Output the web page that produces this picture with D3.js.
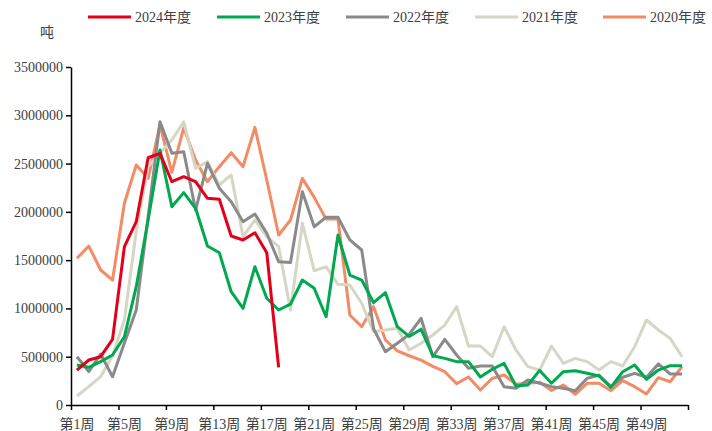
<!DOCTYPE html>
<html>
<head>
<meta charset="utf-8">
<script src="https://cdn.jsdelivr.net/npm/d3@7"></script>
<style>
  html, body { margin: 0; padding: 0; background: #fff; }
  svg { display: block; }
  text { font-family: "Liberation Serif", "Noto Sans CJK SC", serif; fill: #333; }
</style>
</head>
<body>
<svg id="chart" width="712" height="431"></svg>
<script>
const weeks = ["第1周","第2周","第3周","第4周","第5周","第6周","第7周","第8周","第9周","第10周",
  "第11周","第12周","第13周","第14周","第15周","第16周","第17周","第18周","第19周","第20周",
  "第21周","第22周","第23周","第24周","第25周","第26周","第27周","第28周","第29周","第30周",
  "第31周","第32周","第33周","第34周","第35周","第36周","第37周","第38周","第39周","第40周",
  "第41周","第42周","第43周","第44周","第45周","第46周","第47周","第48周","第49周","第50周",
  "第51周","第52周"];

const seriesNames = ["2024年度", "2023年度", "2022年度", "2021年度", "2020年度"];

const y2024 = [362000, 466000, 500000, 680000, 1639000, 1898000, 2560000, 2606000, 2312000, 2364000,
  2312000, 2140000, 2130000, 1750000, 1709000, 1784000, 1577000, 390000];

const y2023 = [414000, 390000, 449000, 518000, 707000, 1225000, 1916000, 2640000, 2053000, 2199000,
  2037000, 1646000, 1577000, 1173000, 1001000, 1432000, 1105000, 984000, 1045000, 1294000,
  1208000, 914000, 1760000, 1346000, 1294000, 1060000, 1163000, 811000, 710000, 785000,
  510000, 483000, 449000, 449000, 290000, 370000, 431000, 197000, 207000, 358000,
  225000, 345000, 355000, 328000, 300000, 183000, 345000, 414000, 266000, 362000,
  407000, 407000];

const y2022 = [500000, 345000, 528000, 293000, 642000, 984000, 1950000, 2933000, 2606000, 2623000,
  2019000, 2503000, 2244000, 2105000, 1898000, 1978000, 1778000, 1484000, 1475000, 2209000,
  1846000, 1945000, 1945000, 1709000, 1605000, 790000, 552000, 639000, 730000, 898000,
  500000, 680000, 518000, 380000, 404000, 404000, 190000, 173000, 259000, 225000,
  190000, 173000, 148000, 276000, 311000, 190000, 287000, 328000, 287000, 425000,
  321000, 321000];

const y2021 = [93000, 190000, 293000, 510000, 880000, 1800000, 2468000, 2606000, 2744000, 2933000,
  2451000, 2520000, 2278000, 2382000, 1743000, 1916000, 1743000, 1639000, 984000, 1881000,
  1390000, 1432000, 1250000, 1243000, 1053000, 759000, 777000, 794000, 570000, 639000,
  725000, 828000, 1018000, 611000, 611000, 500000, 811000, 570000, 397000, 362000,
  611000, 431000, 483000, 449000, 362000, 449000, 404000, 604000, 880000, 777000,
  690000, 500000];

const y2020 = [1519000, 1646000, 1398000, 1294000, 2089000, 2485000, 2347000, 2900000, 2410000, 2870000,
  2537000, 2312000, 2468000, 2613000, 2468000, 2875000, 2330000, 1760000, 1916000, 2347000,
  2150000, 1925000, 1925000, 932000, 811000, 1018000, 673000, 560000, 510000, 465000,
  400000, 345000, 221000, 290000, 155000, 276000, 311000, 215000, 225000, 236000,
  150000, 207000, 111000, 225000, 225000, 148000, 252000, 190000, 114000, 283000,
  241000, 397000];

const yTicks = [0, 500000, 1000000, 1500000, 2000000, 2500000, 3000000, 3500000];
const xLabelEvery = 4;
const unitLabel = "吨";

const colors = ["#E2001A", "#00A94F", "#8A8A8A", "#D6D6C5", "#F28B66"];
const allSeries = [y2024, y2023, y2022, y2021, y2020];

const svg = d3.select("#chart");
const mLeft = 71, mRight = 688, mTop = 67, mBottom = 405;

const xBand = d3.scaleBand().domain(weeks).range([mLeft, mRight]).padding(0);
const xLin = d3.scaleLinear().domain([0, weeks.length]).range([mLeft, mRight]);
const y = d3.scaleLinear().domain([0, 3500000]).range([mBottom, mTop]);

// Y axis
const yAxis = svg.append("g")
  .attr("transform", `translate(${mLeft},0)`)
  .call(d3.axisLeft(y).tickValues(yTicks).tickFormat(d3.format("d")).tickSize(5).tickSizeOuter(0));
yAxis.select(".domain").attr("stroke", "#000").attr("stroke-width", 1.5);
yAxis.selectAll(".tick line").attr("stroke", "#000").attr("stroke-width", 1.5);
yAxis.selectAll(".tick text").attr("x", -8).style("font-size", "14px").style("fill", "#404040")
  .style("font-family", "'Liberation Serif', serif");

// X axis
const xAxis = svg.append("g")
  .attr("transform", `translate(0,${mBottom})`)
  .call(d3.axisBottom(xLin).tickValues(d3.range(0, weeks.length + 1, xLabelEvery)).tickFormat("").tickSize(5).tickSizeOuter(0));
xAxis.select(".domain").attr("stroke", "#000").attr("stroke-width", 1.5);
xAxis.selectAll(".tick line").attr("stroke", "#000").attr("stroke-width", 1.5);

svg.append("g").selectAll("text")
  .data(weeks.filter((d, i) => i % xLabelEvery === 0))
  .join("text")
  .attr("x", d => xBand(d) + xBand.bandwidth() / 2)
  .attr("y", 429)
  .attr("text-anchor", "middle")
  .style("font-size", "14px")
  .style("fill", "#404040")
  .text(d => d);

// unit label
svg.append("text").attr("x", 47).attr("y", 37).attr("text-anchor", "middle")
  .style("font-size", "14px").style("fill", "#404040").text(unitLabel);

// Lines (draw older first so 2024 on top)
const line = d3.line()
  .x((d, i) => xBand(weeks[i]) + xBand.bandwidth() / 2)
  .y(d => y(d));

const order = [4, 3, 2, 1, 0];
order.forEach(k => {
  svg.append("path")
    .datum(allSeries[k])
    .attr("fill", "none")
    .attr("stroke", colors[k])
    .attr("stroke-width", 3)
    .attr("stroke-linejoin", "round")
    .attr("d", line);
});

// Legend
const legendX = [88, 217, 346, 475, 603];
const lg = svg.append("g");
seriesNames.forEach((name, k) => {
  lg.append("line")
    .attr("x1", legendX[k]).attr("x2", legendX[k] + 43)
    .attr("y1", 17).attr("y2", 17)
    .attr("stroke", colors[k]).attr("stroke-width", 3);
  lg.append("text")
    .attr("x", legendX[k] + 47).attr("y", 22)
    .style("font-size", "14px").style("fill", "#404040")
    .text(name);
});
</script>
</body>
</html>
